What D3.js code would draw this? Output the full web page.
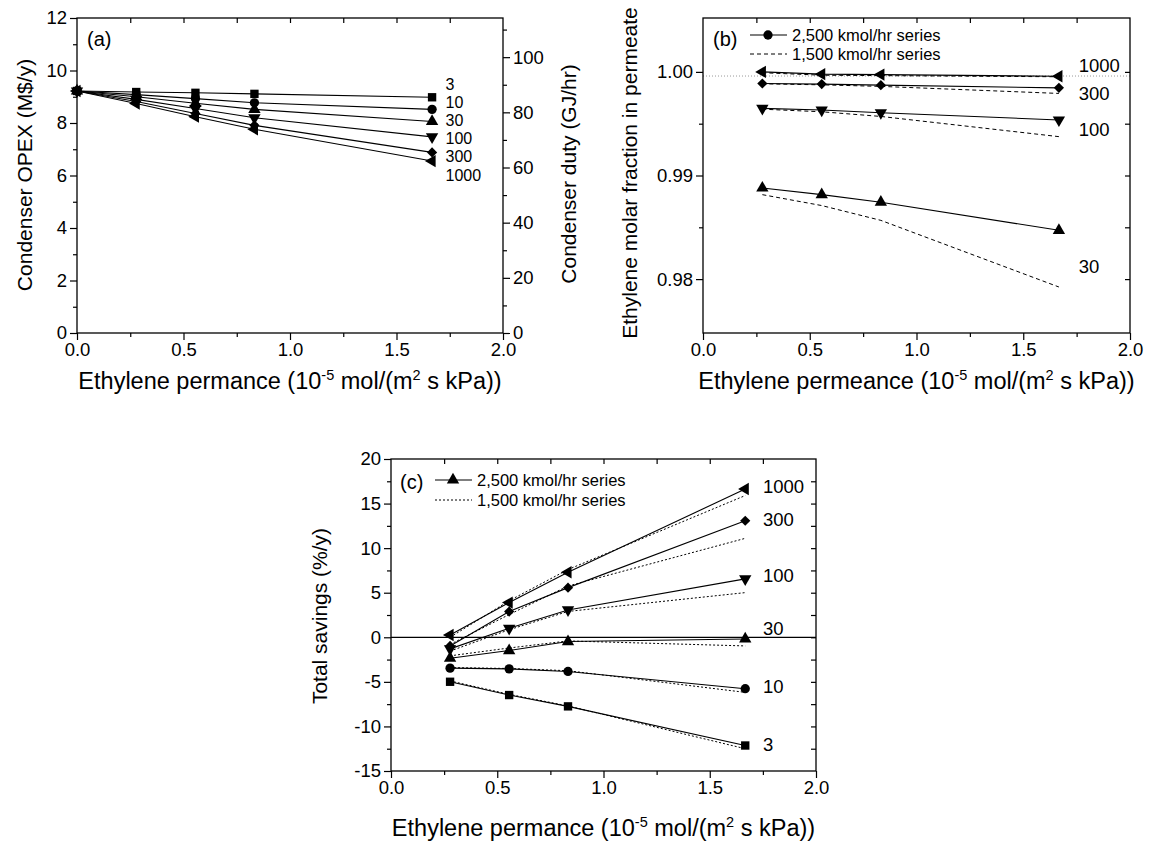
<!DOCTYPE html>
<html>
<head>
<meta charset="utf-8">
<script src="https://cdn.jsdelivr.net/npm/d3@7"></script>
<style>
  body { margin: 0; background: #fff; }
  svg  { display: block; }
</style>
</head>
<body>
<svg id="fig" width="1150" height="845"></svg>
<script>
// ── Values ─────────────────────────────────────────────────────────────────
// permeance (1e-5 mol/(m2 s kPa)) at which the cases were run
const permA = [0, 0.278, 0.556, 0.833, 1.667];   // panel (a) also has the no-membrane base case
const perm  = [0.278, 0.556, 0.833, 1.667];

// membrane area cases (labels at line ends), same order everywhere
const cases = ['3', '10', '30', '100', '300', '1000'];

// (a) condenser OPEX, M$/y — one row per case
const opex = [
  [9.22, 9.18, 9.15, 9.11, 8.98],
  [9.22, 9.08, 8.93, 8.77, 8.52],
  [9.22, 9.00, 8.75, 8.52, 8.06],
  [9.22, 8.90, 8.55, 8.20, 7.47],
  [9.22, 8.82, 8.36, 7.91, 6.88],
  [9.22, 8.74, 8.24, 7.76, 6.55],
];

// (b) ethylene purity in permeate — only cases 30..1000 are plotted
const casesB = ['30', '100', '300', '1000'];
const purity2500 = [
  [0.98879, 0.98815, 0.98742, 0.98471],
  [0.99648, 0.99632, 0.99606, 0.99536],
  [0.99888, 0.99882, 0.99872, 0.99846],
  [1.00000, 0.99978, 0.99974, 0.99958],
];
const purity1500 = [
  [0.98815, 0.98710, 0.98567, 0.97924],
  [0.99640, 0.99615, 0.99570, 0.99375],
  [0.99885, 0.99875, 0.99860, 0.99792],
  [0.99992, 0.99968, 0.99964, 0.99953],
];
const puritySpec = 0.9996;   // dotted reference line

// (c) total savings, %/y
const savings2500 = [
  [-4.99, -6.48, -7.75, -12.14],
  [-3.46, -3.54, -3.83, -5.77],
  [-2.35, -1.49, -0.48, -0.19],
  [-1.30, 1.01, 3.07, 6.55],
  [-0.97, 2.88, 5.57, 13.07],
  [0.26, 3.89, 7.30, 16.63],
];
const savings1500 = [
  [-4.90, -6.40, -7.70, -12.50],
  [-3.40, -3.50, -3.75, -6.18],
  [-2.08, -1.20, -0.41, -0.97],
  [-1.55, 0.85, 2.90, 5.01],
  [-0.80, 2.55, 5.75, 11.10],
  [0.00, 4.10, 7.60, 15.90],
];

const seriesNames = ['2,500 kmol/hr series', '1,500 kmol/hr series'];

// ── Layout ─────────────────────────────────────────────────────────────────
const FONT = '"Liberation Sans", Arial, Helvetica, sans-serif';
const F_TICK = 18.5, F_TITLE = 21, F_XTITLE = 23.5, F_LEG = 16.5, F_SUP = 14.5;

const BOX_A = { x0: 77,  x1: 503,  y0: 18,  y1: 333 };
const BOX_B = { x0: 703, x1: 1130, y0: 18,  y1: 333 };
const BOX_C = { x0: 391, x1: 816,  y0: 459, y1: 771 };

// where the case labels sit, in data units of each panel
const LABEL_A = { x: 1.73, y: [9.486, 8.792, 8.099, 7.406, 6.712, 6.019], size: 16 };
const LABEL_B = { x: 1.76, y: [0.9812, 0.99446, 0.99792, 1.00064] };
const LABEL_C = { x: 1.75, y: [-12.0, -5.5, 1.0, 6.9, 13.2, 16.9] };

const svg = d3.select('#fig').attr('font-family', FONT);
svg.append('rect').attr('width', 1150).attr('height', 845).attr('fill', '#fff');

const range = (a, b, s) => d3.range(a, b + s / 2, s).map(v => +v.toFixed(6));

// marker per case: square, circle, up, down, diamond (square at 45°), left
function marker(g, caseIdx, cx, cy) {
  const shapes = [
    [d3.symbolSquare, 70, 0], [d3.symbolCircle, 68, 0], [d3.symbolTriangle, 66, 0],
    [d3.symbolTriangle, 66, 180], [d3.symbolSquare, 52, 45], [d3.symbolTriangle, 66, -90],
  ];
  const [type, size, rot] = shapes[caseIdx];
  g.append('path')
    .attr('d', d3.symbol().type(type).size(size)())
    .attr('transform', `translate(${cx},${cy}) rotate(${rot})`)
    .attr('fill', '#000');
}

function axis(g, fn, scale, values, size, fmt, at) {
  const ax = fn(scale).tickValues(values).tickSize(size).tickSizeOuter(0).tickPadding(3)
    .tickFormat(fmt || (() => ''));
  const sel = g.append('g').attr('transform', at).call(ax)
    .attr('font-family', FONT).attr('font-size', F_TICK);
  sel.select('.domain').remove();
  sel.selectAll('line').attr('stroke', '#000').attr('stroke-width', 1.2);
  sel.selectAll('text').attr('fill', '#000');
  return sel;
}

function frame(box) {
  svg.append('rect')
    .attr('x', box.x0).attr('y', box.y0)
    .attr('width', box.x1 - box.x0).attr('height', box.y1 - box.y0)
    .attr('fill', 'none').attr('stroke', '#000').attr('stroke-width', 1.3);
}

function xTitle(cx, y, word) {
  const t = svg.append('text').attr('x', cx).attr('y', y)
    .attr('text-anchor', 'middle').attr('font-size', F_XTITLE);
  t.append('tspan').text(`Ethylene ${word} (10`);
  t.append('tspan').attr('font-size', F_SUP).attr('dy', -9).text('-5');
  t.append('tspan').attr('dy', 9).text(' mol/(m');
  t.append('tspan').attr('font-size', F_SUP).attr('dy', -9).text('2');
  t.append('tspan').attr('dy', 9).text(' s kPa))');
}

function yTitle(x, y, text) {
  svg.append('text').attr('transform', `translate(${x},${y}) rotate(-90)`)
    .attr('text-anchor', 'middle').attr('font-size', F_TITLE).text(text);
}

function xAxes(box, x) {
  const f = d3.format('.1f');
  axis(svg, d3.axisBottom, x, range(0, 2, 0.5), 7, f, `translate(0,${box.y1})`);
  axis(svg, d3.axisBottom, x, range(0.25, 1.75, 0.5), 4, null, `translate(0,${box.y1})`);
  axis(svg, d3.axisTop, x, range(0.25, 1.75, 0.25), -5, null, `translate(0,${box.y0})`);
}

const lineOf = (x, y, xs) => d3.line().x((d, i) => x(xs[i])).y(d => y(d));

// ── (a) Condenser OPEX / duty ──────────────────────────────────────────────
{
  const x = d3.scaleLinear().domain([0, 2]).range([BOX_A.x0, BOX_A.x1]);
  const y = d3.scaleLinear().domain([0, 12]).range([BOX_A.y1, BOX_A.y0]);
  const yR = d3.scaleLinear().domain([0, 114.2]).range([BOX_A.y1, BOX_A.y0]);

  xAxes(BOX_A, x);
  axis(svg, d3.axisLeft, y, range(0, 12, 2), 7, d => String(d), `translate(${BOX_A.x0},0)`);
  axis(svg, d3.axisLeft, y, range(1, 11, 2), 4, null, `translate(${BOX_A.x0},0)`);
  axis(svg, d3.axisRight, yR, range(0, 100, 20), 7, d => String(d), `translate(${BOX_A.x1},0)`);
  axis(svg, d3.axisRight, yR, range(10, 110, 20), 4, null, `translate(${BOX_A.x1},0)`);

  const g = svg.append('g');
  opex.forEach((row, k) => {
    g.append('path').attr('d', lineOf(x, y, permA)(row))
      .attr('fill', 'none').attr('stroke', '#000').attr('stroke-width', 1.1);
  });
  opex.forEach((row, k) => row.forEach((v, i) => marker(g, k, x(permA[i]), y(v))));

  cases.forEach((c, k) => {
    g.append('text').attr('x', x(LABEL_A.x)).attr('y', y(LABEL_A.y[k]))
      .attr('dy', '0.35em').attr('font-size', LABEL_A.size).text(c);
  });

  svg.append('text').attr('x', 87).attr('y', 46).attr('font-size', 20).text('(a)');
  frame(BOX_A);
  yTitle(32, 175, 'Condenser OPEX (M$/y)');
  yTitle(576, 174, 'Condenser duty (GJ/hr)');
  xTitle((BOX_A.x0 + BOX_A.x1) / 2, 389, 'permance');
}

// ── (b) Ethylene purity in permeate ────────────────────────────────────────
{
  const x = d3.scaleLinear().domain([0, 2]).range([BOX_B.x0, BOX_B.x1]);
  const y = d3.scaleLinear().domain([0.9748, 1.0052]).range([BOX_B.y1, BOX_B.y0]);
  const f = d3.format('.2f');

  xAxes(BOX_B, x);
  axis(svg, d3.axisLeft, y, [0.98, 0.99, 1.0], 7, f, `translate(${BOX_B.x0},0)`);
  axis(svg, d3.axisLeft, y, [0.985, 0.995], 4, null, `translate(${BOX_B.x0},0)`);
  axis(svg, d3.axisRight, y, [0.98, 0.985, 0.99, 0.995, 1.0], -5, null, `translate(${BOX_B.x1},0)`);

  svg.append('line')
    .attr('x1', BOX_B.x0).attr('x2', BOX_B.x1).attr('y1', y(puritySpec)).attr('y2', y(puritySpec))
    .attr('stroke', '#999').attr('stroke-width', 1).attr('stroke-dasharray', '1,2');

  const g = svg.append('g');
  purity1500.forEach(row => {
    g.append('path').attr('d', lineOf(x, y, perm)(row))
      .attr('fill', 'none').attr('stroke', '#000').attr('stroke-width', 1)
      .attr('stroke-dasharray', '4,3');
  });
  purity2500.forEach(row => {
    g.append('path').attr('d', lineOf(x, y, perm)(row))
      .attr('fill', 'none').attr('stroke', '#000').attr('stroke-width', 1.1);
  });
  purity2500.forEach((row, k) => {
    const idx = cases.indexOf(casesB[k]);
    row.forEach((v, i) => marker(g, idx, x(perm[i]), y(v)));
  });

  casesB.forEach((c, k) => {
    g.append('text').attr('x', x(LABEL_B.x)).attr('y', y(LABEL_B.y[k]))
      .attr('dy', '0.35em').attr('font-size', F_TICK).text(c);
  });

  // legend
  const lg = svg.append('g');
  lg.append('line').attr('x1', 750).attr('x2', 787).attr('y1', 35).attr('y2', 35)
    .attr('stroke', '#000').attr('stroke-width', 1.1);
  marker(lg, 1, 768, 35);
  lg.append('line').attr('x1', 750).attr('x2', 787).attr('y1', 54).attr('y2', 54)
    .attr('stroke', '#000').attr('stroke-width', 1).attr('stroke-dasharray', '4,3');
  seriesNames.forEach((s, i) => lg.append('text').attr('x', 792).attr('y', 35 + i * 19)
    .attr('dy', '0.35em').attr('font-size', F_LEG).text(s));

  svg.append('text').attr('x', 713).attr('y', 46).attr('font-size', 20).text('(b)');
  frame(BOX_B);
  yTitle(637, 173, 'Ethylene molar fraction in permeate');
  xTitle((BOX_B.x0 + BOX_B.x1) / 2, 389, 'permeance');
}

// ── (c) Total savings ──────────────────────────────────────────────────────
{
  const x = d3.scaleLinear().domain([0, 2]).range([BOX_C.x0, BOX_C.x1]);
  const y = d3.scaleLinear().domain([-15, 20]).range([BOX_C.y1, BOX_C.y0]);

  xAxes(BOX_C, x);
  axis(svg, d3.axisLeft, y, range(-15, 20, 5), 7, d => String(d), `translate(${BOX_C.x0},0)`);
  axis(svg, d3.axisLeft, y, range(-12.5, 17.5, 5), 4, null, `translate(${BOX_C.x0},0)`);
  axis(svg, d3.axisRight, y, range(-12.5, 17.5, 2.5), -5, null, `translate(${BOX_C.x1},0)`);

  svg.append('line')
    .attr('x1', BOX_C.x0).attr('x2', BOX_C.x1).attr('y1', y(0)).attr('y2', y(0))
    .attr('stroke', '#000').attr('stroke-width', 1.3);

  const g = svg.append('g');
  savings1500.forEach(row => {
    g.append('path').attr('d', lineOf(x, y, perm)(row))
      .attr('fill', 'none').attr('stroke', '#000').attr('stroke-width', 1)
      .attr('stroke-dasharray', '2,2');
  });
  savings2500.forEach(row => {
    g.append('path').attr('d', lineOf(x, y, perm)(row))
      .attr('fill', 'none').attr('stroke', '#000').attr('stroke-width', 1.1);
  });
  savings2500.forEach((row, k) => row.forEach((v, i) => marker(g, k, x(perm[i]), y(v))));

  cases.forEach((c, k) => {
    g.append('text').attr('x', x(LABEL_C.x)).attr('y', y(LABEL_C.y[k]))
      .attr('dy', '0.35em').attr('font-size', F_TICK).text(c);
  });

  const lg = svg.append('g');
  lg.append('line').attr('x1', 435).attr('x2', 472).attr('y1', 480).attr('y2', 480)
    .attr('stroke', '#000').attr('stroke-width', 1.1);
  marker(lg, 2, 453, 480);
  lg.append('line').attr('x1', 435).attr('x2', 472).attr('y1', 500).attr('y2', 500)
    .attr('stroke', '#000').attr('stroke-width', 1).attr('stroke-dasharray', '2,2');
  seriesNames.forEach((s, i) => lg.append('text').attr('x', 477).attr('y', 480 + i * 20)
    .attr('dy', '0.35em').attr('font-size', F_LEG).text(s));

  svg.append('text').attr('x', 400).attr('y', 489).attr('font-size', 20).text('(c)');
  frame(BOX_C);
  yTitle(327, 616, 'Total savings (%/y)');
  xTitle((BOX_C.x0 + BOX_C.x1) / 2, 836, 'permance');
}
</script>
</body>
</html>
